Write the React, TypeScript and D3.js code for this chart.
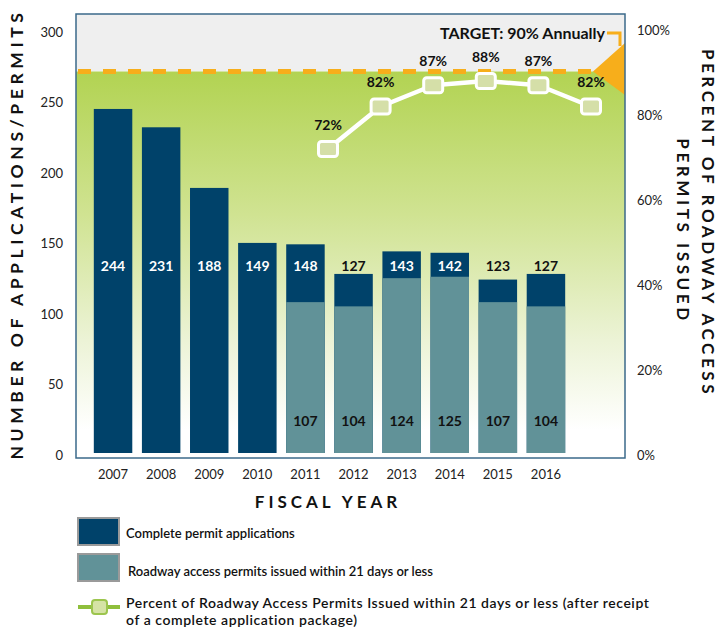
import React from "react";
import * as d3 from "d3";

const years = ["2007", "2008", "2009", "2010", "2011", "2012", "2013", "2014", "2015", "2016"];
const completeApps = [244, 231, 188, 149, 148, 127, 143, 142, 123, 127];
const issuedYears = ["2011", "2012", "2013", "2014", "2015", "2016"];
const issued21 = [107, 104, 124, 125, 107, 104];
const pctIssued = [0.72, 0.82, 0.87, 0.88, 0.87, 0.82];
const pctLabels = ["72%", "82%", "87%", "88%", "87%", "82%"];
const leftTicks = [0, 50, 100, 150, 200, 250, 300];
const rightTicks = [0, 0.2, 0.4, 0.6, 0.8, 1.0];
const target = 0.9;

const W = 720;
const H = 627;
const FONT = "Lato, 'Open Sans', sans-serif";
const DARK = "#00426a";
const LIGHT = "#619298";
const ORANGE = "#f7ae1b";

export default function App() {
  const frame = { x0: 76, x1: 625, y0: 14, y1: 458 };
  const yL = d3.scaleLinear().domain([0, 300]).range([453, 30]);
  const yR = d3.scaleLinear().domain([0, 1]).range([455, 30]);
  const x = d3.scaleBand().domain(years).range([89, 570]).paddingInner(0.2).paddingOuter(0.1);
  const xl = d3.scalePoint().domain(issuedYears).range([328, 591]);
  const bw = x.bandwidth();
  const ty = yR(target) - 1;
  const labelY = 266;

  const line = d3
    .line<number>()
    .x((_, i) => xl(issuedYears[i]) as number)
    .y((d) => yR(d));

  return (
    <svg width={W} height={H} style={{ position: "absolute", left: 0, top: 0 }} fontFamily={FONT}>
      <defs>
        <linearGradient id="grn" gradientUnits="userSpaceOnUse" x1="0" y1={ty} x2="0" y2={430}>
          <stop offset="0" stopColor="#b2d352" />
          <stop offset="0.4" stopColor="#d0e392" />
          <stop offset="0.75" stopColor="#ecf3d6" />
          <stop offset="1" stopColor="#ffffff" />
        </linearGradient>
      </defs>
      <rect x={frame.x0} y={frame.y0} width={frame.x1 - frame.x0} height={ty - frame.y0} fill="#efefef" />
      <rect x={frame.x0} y={ty} width={frame.x1 - frame.x0} height={frame.y1 - ty} fill="url(#grn)" />

      {/* bars */}
      {years.map((yr, i) => (
        <rect key={"d" + yr} x={x(yr)} y={yL(completeApps[i])} width={bw} height={yL(0) - yL(completeApps[i])} fill={DARK} />
      ))}
      {issuedYears.map((yr, i) => (
        <rect key={"l" + yr} x={x(yr)} y={yL(issued21[i])} width={bw} height={yL(0) - yL(issued21[i])} fill={LIGHT} />
      ))}
      {years.map((yr, i) => (
        <text
          key={"t" + yr}
          x={(x(yr) as number) + bw / 2}
          y={labelY}
          dy="0.35em"
          textAnchor="middle"
          fontSize={14}
          fontWeight={700}
          fill={yL(completeApps[i]) < labelY - 10 ? "#ffffff" : "#111"}
        >
          {completeApps[i]}
        </text>
      ))}
      {issuedYears.map((yr, i) => (
        <text key={"b" + yr} x={(x(yr) as number) + bw / 2} y={421} dy="0.35em" textAnchor="middle" fontSize={14} fontWeight={700} fill="#111">
          {issued21[i]}
        </text>
      ))}

      {/* target */}
      <line x1={frame.x0 + 2} x2={594} y1={ty} y2={ty} stroke={ORANGE} strokeWidth={5} strokeDasharray="13,12" />
      <polygon points={`${frame.x1},43 593,${ty} ${frame.x1},95`} fill={ORANGE} />
      <polyline points={`607,33 620,33 620,46`} fill="none" stroke={ORANGE} strokeWidth={3} />
      <text x={605} y={33} dy="0.35em" textAnchor="end" fontSize={16} fontWeight={700} fill="#111">
        TARGET: 90% Annually
      </text>

      {/* frame */}
      <rect x={frame.x0} y={frame.y0} width={frame.x1 - frame.x0} height={frame.y1 - frame.y0} fill="none" stroke="#3b6a8a" strokeWidth={1.5} />

      {/* percent line */}
      <path d={line(pctIssued) || ""} fill="none" stroke="#ffffff" strokeWidth={4.5} strokeLinejoin="round" />
      {issuedYears.map((yr, i) => (
        <g key={"m" + yr}>
          <rect x={(xl(yr) as number) - 9.5} y={yR(pctIssued[i]) - 7.5} width={19} height={15} rx={3} fill="#d5dfa8" stroke="#ffffff" strokeWidth={3} />
          <text x={xl(yr)} y={yR(pctIssued[i]) - 24} dy="0.35em" textAnchor="middle" fontSize={14} fontWeight={700} fill="#111">
            {pctLabels[i]}
          </text>
        </g>
      ))}

      {/* left axis */}
      {leftTicks.map((t) => (
        <text key={"lt" + t} x={63} y={yL(t) + 2} dy="0.35em" textAnchor="end" fontSize={13} fill="#222">
          {t}
        </text>
      ))}
      {/* right axis */}
      {rightTicks.map((t) => (
        <text key={"rt" + t} x={637} y={yR(t)} dy="0.35em" textAnchor="start" fontSize={13} fill="#222">
          {Math.round(t * 100) + "%"}
        </text>
      ))}
      {/* x axis labels */}
      {years.map((yr) => (
        <text key={"x" + yr} x={(x(yr) as number) + bw / 2} y={474} dy="0.35em" textAnchor="middle" fontSize={13} fill="#222">
          {yr}
        </text>
      ))}

      {/* titles */}
      <text transform="translate(17,234) rotate(-90)" dy="0.35em" textAnchor="middle" fontSize={17.5} fontWeight={700} letterSpacing={4.6} fill="#111">
        NUMBER OF APPLICATIONS/PERMITS
      </text>
      <text transform="translate(708,223) rotate(90)" dy="0.35em" textAnchor="middle" fontSize={17} fontWeight={700} letterSpacing={3.6} fill="#111">
        PERCENT OF ROADWAY ACCESS
      </text>
      <text transform="translate(683,231) rotate(90)" dy="0.35em" textAnchor="middle" fontSize={17} fontWeight={700} letterSpacing={3.6} fill="#111">
        PERMITS ISSUED
      </text>
      <text x={328} y={502} dy="0.35em" textAnchor="middle" fontSize={17} fontWeight={700} letterSpacing={4} fill="#111">
        FISCAL YEAR
      </text>

      {/* legend */}
      <rect x={78} y={518} width={41} height={27} fill={DARK} stroke="#9a9a9a" strokeWidth={2} />
      <text x={126} y={533} dy="0.35em" fontSize={13} fontWeight={600} fill="#111">
        Complete permit applications
      </text>
      <rect x={78} y={554} width={41} height={27} fill={LIGHT} stroke="#9a9a9a" strokeWidth={2} />
      <text x={128} y={571} dy="0.35em" fontSize={13} fontWeight={600} fill="#111">
        Roadway access permits issued within 21 days or less
      </text>
      <line x1={78} x2={120} y1={607} y2={607} stroke="#8fbf3c" strokeWidth={4} />
      <rect x={92} y={600} width={15} height={14} rx={3} fill="#d5e3a5" stroke="#9cc54e" strokeWidth={2} />
      <text x={126} y={603} dy="0.35em" fontSize={14} fontWeight={600} letterSpacing={0.55} fill="#111">
        Percent of Roadway Access Permits Issued within 21 days or less (after receipt
      </text>
      <text x={126} y={620} dy="0.35em" fontSize={14} fontWeight={600} letterSpacing={0.55} fill="#111">
        of a complete application package)
      </text>
    </svg>
  );
}
